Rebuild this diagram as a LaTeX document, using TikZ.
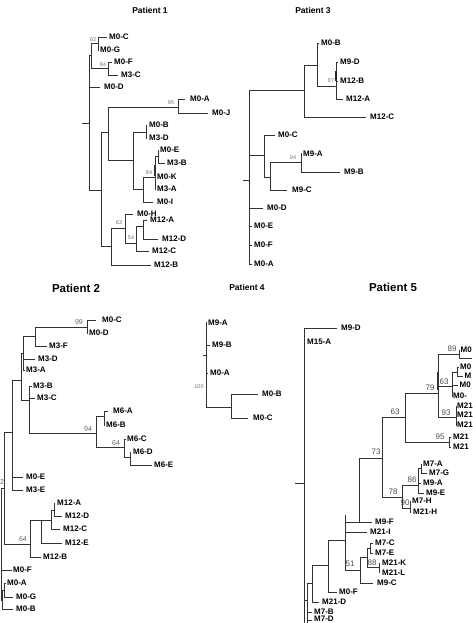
\documentclass[tikz,border=0pt]{standalone}
\usepackage{fontspec}
\setmainfont{Liberation Sans}
\newcount\lc
\newcommand\lb[3]{\global\advance\lc by 1 \node[lab] (lab\the\lc) at (#1,#2) {#3};}
\newcommand\bv[4][bs]{\global\advance\lc by 1 \node[#1] (bs\the\lc) at (#2,#3) {#4};}
\begin{document}
\begin{tikzpicture}[x=1pt,y=-1pt,
  br/.style={line width=0.55pt, draw=black!80},
  lab/.style={font=\fontsize{8}{9}\selectfont\bfseries, anchor=west, inner sep=0pt, text=black},
  bs/.style={font=\fontsize{5.5}{6}\selectfont, text=black!55, inner sep=0pt},
  bsb/.style={font=\fontsize{7}{8}\selectfont, text=black!60, inner sep=0pt},
  bsc/.style={font=\fontsize{8}{9}\selectfont, text=black!70, inner sep=0pt},
  ttl/.style={font=\fontsize{8.5}{10}\selectfont\bfseries, inner sep=0pt},
  ttlb/.style={font=\fontsize{11.5}{13}\selectfont\bfseries, inner sep=0pt}]
\useasboundingbox (0,0) rectangle (472,623);
\clip (0,0) rectangle (472,623);

% ================= Patient 1 =================
\node[ttl] (t1) at (150,10) {Patient 1};
\draw[br] (82,123)--(89,123);
\draw[br] (89,55)--(89,190);
\draw[br] (89,55)--(91,55) (91,43)--(91,68);
\draw[br] (91,43)--(98,43) (98,37)--(98,50) (98,37)--(107,37) (98,50)--(99,50);
\lb{109}{37}{M0-C} \lb{100}{50}{M0-G} \bv{93}{40}{62}
\draw[br] (91,68)--(108,68) (108,62)--(108,75) (108,62)--(112,62) (108,75)--(118,75);
\lb{114}{62}{M0-F} \lb{121}{75}{M3-C} \bv{103}{65}{84}
\draw[br] (89,87)--(100,87); \lb{104}{87}{M0-D}
\draw[br] (89,190)--(101,190) (101,132)--(101,246);
\draw[br] (101,132)--(108,132) (108,107)--(108,160);
\draw[br] (108,107)--(178,107) (178,99)--(178,113) (178,99)--(185,99) (178,113)--(208,113);
\lb{190}{99}{M0-A} \lb{212}{113}{M0-J} \bv{171}{103}{95}
\draw[br] (108,160)--(133,160) (133,132)--(133,189);
\draw[br] (133,132)--(146,132) (146,125)--(146,138) (146,125)--(147,125) (146,138)--(147,138);
\lb{149}{125}{M0-B} \lb{149}{138}{M3-D}
\draw[br] (133,189)--(143,189) (143,177)--(143,202);
\draw[br] (143,177)--(155,177) (155,156)--(155,189);
\draw[br] (155,156)--(158,156) (158,150)--(158,163) (158,150)--(159,150) (158,163)--(165,163);
\draw[line width=1.1pt, black!80] (155,165)--(155,176);
\lb{160}{150}{M0-E} \lb{167}{163}{M3-B} \bv{149}{173}{84}
\draw[br] (155,177)--(156,177) (155,189)--(156,189);
\lb{157}{177}{M0-K} \lb{157}{189}{M3-A}
\draw[br] (143,202)--(153,202); \lb{157}{202}{M0-I}
\draw[br] (101,246)--(111,246) (111,228)--(111,265);
\draw[br] (111,228)--(125,228) (125,214)--(125,243) (125,214)--(133,214);
\lb{137}{214}{M0-H} \bv{119}{223}{63}
\draw[br] (125,243)--(136,243) (136,226)--(136,251);
\bv{131}{238}{54}
\draw[br] (136,226)--(143,226) (143,220)--(143,239) (143,220)--(147,220) (143,239)--(158,239);
\lb{150}{220}{M12-A} \lb{162}{239}{M12-D}
\draw[br] (136,251)--(149,251); \lb{152}{251}{M12-C}
\draw[br] (111,265)--(151,265); \lb{154}{265}{M12-B}

% ================= Patient 3 =================
\node[ttl] (t3) at (313,10) {Patient 3};
\draw[br] (243,180)--(249,180);
\draw[br] (249,90)--(249,264);
\draw[br] (249,90)--(304,90) (304,65)--(304,117);
\draw[br] (304,65)--(317,65) (317,43)--(317,86) (317,43)--(319,43);
\lb{321}{43}{M0-B}
\draw[br] (317,86)--(336,86) (336,62)--(336,99) (336,62)--(338,62) (336,81)--(338,81) (336,99)--(343,99);
\draw[line width=1.4pt, black!85] (336,71)--(336,81);
\lb{340}{62}{M9-D} \lb{340}{81}{M12-B} \lb{346}{99}{M12-A} \bv{331}{81}{87}
\draw[br] (304,117)--(366,117); \lb{370}{117}{M12-C}
\draw[br] (249,155)--(264,155) (264,135)--(264,177) (264,135)--(275,135);
\lb{278}{135}{M0-C}
\draw[br] (264,177)--(270,177) (270,162)--(270,190);
\draw[br] (270,162)--(301,162) (301,153)--(301,172) (301,154)--(302,154) (301,172)--(340,172);
\lb{303}{154}{M9-A} \lb{344}{172}{M9-B} \bv{293}{158}{94}
\draw[br] (270,190)--(287,190); \lb{292}{190}{M9-C}
\draw[br] (249,208)--(263,208); \lb{267}{208}{M0-D}
\draw[br] (249,226)--(252,226) (249,245)--(252,245) (249,264)--(252,264);
\lb{254}{226}{M0-E} \lb{254}{245}{M0-F} \lb{254}{264}{M0-A}

% ================= Patient 4 =================
\node[ttl] (t4) at (247,287) {Patient 4};
\draw[br] (206,322)--(206,407) (203,355)--(206,355);
\draw[br] (206,323)--(207,323) (206,345)--(210,345) (206,373)--(208,373);
\lb{208}{323}{M9-A} \lb{212}{345}{M9-B} \lb{210}{373}{M0-A}
\bv{199}{387}{100}
\draw[line width=1pt, black!80] (206,407)--(231,407);
\draw[br] (231,394)--(231,418) (231,394)--(258,394) (231,418)--(248,418);
\lb{262}{394}{M0-B} \lb{253}{418}{M0-C}

% ================= Patient 2 =================
\node[ttlb] (t2) at (76,288) {Patient 2};
\draw[br] (35,327)--(87,327) (87,320)--(87,333) (87,320)--(96,320) (87,333)--(88,333);
\lb{102}{320}{M0-C} \lb{89}{333}{M0-D} \bv[bsb]{79}{322}{99}
\draw[br] (35,327)--(35,346) (35,346)--(47,346); \lb{49}{346}{M3-F}
\draw[br] (23,336)--(35,336) (23,336)--(23,370) (23,359)--(35,359) (23,370)--(25,370);
\lb{38}{359}{M3-D} \lb{26}{370}{M3-A}
\draw[br] (21,353)--(23,353) (21,353)--(21,400);
\draw[br] (21,400)--(29,400) (29,386)--(29,433) (29,386)--(32,386) (29,398)--(35,398);
\lb{33}{386}{M3-B} \lb{37}{398}{M3-C}
\draw[br] (29,433)--(96,433); \bv[bsb]{88}{429}{94}
\draw[br] (96,416)--(96,447) (96,416)--(104,416) (104,411)--(104,425) (104,411)--(108,411) (104,425)--(105,425);
\lb{113}{411}{M6-A} \lb{106}{425}{M6-B}
\draw[br] (96,447)--(124,447) (124,439)--(124,457) (124,439)--(126,439) (124,457)--(130,457);
\draw[br] (130,452)--(130,465) (130,452)--(131,452) (130,465)--(152,465);
\bv[bsb]{116}{443}{64}
\lb{127}{439}{M6-C} \lb{133}{452}{M6-D} \lb{154}{465}{M6-E}
\draw[br] (12,380)--(21,380) (12,380)--(12,490) (12,477)--(23,477) (12,490)--(23,490);
\lb{26}{477}{M0-E} \lb{26}{490}{M3-E}
\draw[br] (4,432)--(12,432) (4,432)--(4,544);
\draw[br] (4,544)--(30,544) (30,520)--(30,557) (30,557)--(41,557);
\bv[bsb]{23}{539}{64} \lb{43}{557}{M12-B}
\draw[br] (30,520)--(41,520) (41,520)--(41,543) (41,543)--(62,543);
\lb{65}{543}{M12-E}
\draw[br] (41,520)--(51,520) (51,510)--(51,529) (51,529)--(60,529);
\lb{63}{529}{M12-C}
\draw[br] (51,510)--(54,510) (54,503)--(54,516) (54,503)--(55,503) (54,516)--(62,516);
\lb{57}{503}{M12-A} \lb{65}{516}{M12-D}
\draw[br] (1,488)--(4,488) (1,488)--(1,600);
\bv[bsb]{2}{482}{2}
\draw[br] (1,570)--(12,570); \lb{13}{570}{M0-F}
\draw[br] (1,600)--(2,600) (2,590)--(2,609) (2,609)--(13,609) (2,590)--(4,590);
\draw[br] (4,583)--(4,597) (4,583)--(6,583) (4,597)--(13,597);
\lb{7}{583}{M0-A} \lb{16}{597}{M0-G} \lb{16}{609}{M0-B}

% ================= Patient 5 =================
\node[ttlb] (t5) at (393,287) {Patient 5};
\draw[br] (304,328)--(304,623) (295,483)--(304,483);
\draw[br] (304,328)--(337,328); \lb{341}{328}{M9-D}
\lb{307}{342}{M15-A}
\draw[br] (304,600)--(307,600) (307,583)--(307,623) (307,583)--(312,583) (307,612)--(312,612) (307,620)--(312,620);
\lb{314}{612}{M7-B} \lb{314}{619}{M7-D}
\draw[br] (312,565)--(312,602) (312,602)--(319,602) (312,565)--(328,565);
\lb{322}{602}{M21-D}
\draw[br] (328,540)--(328,592) (328,592)--(337,592) (328,540)--(345,540);
\lb{339}{592}{M0-F}
\draw[br] (345,515)--(345,570) (345,522)--(372,522) (345,532)--(367,532) (345,570)--(360,570);
\lb{375}{522}{M9-F} \lb{370}{532}{M21-I} \bv[bsc]{350}{564}{51}
\draw[br] (359,458)--(359,522);
\draw[br] (360,557)--(360,583) (360,583)--(373,583) (360,557)--(367,557);
\lb{377}{583}{M9-C}
\draw[br] (367,548)--(367,567) (367,548)--(370,548) (367,567)--(379,567);
\draw[br] (370,543)--(370,553) (370,543)--(373,543) (370,553)--(373,553);
\lb{375}{543}{M7-C} \lb{375}{553}{M7-E}
\draw[line width=1pt, black!80] (379,563)--(379,573);
\lb{382}{563}{M21-K} \lb{382}{573}{M21-L} \bv[bsc]{372}{563}{88}
\draw[br] (359,458)--(382,458) (382,417)--(382,497);
\bv[bsc]{376}{452}{73}
\draw[br] (382,497)--(402,497) (402,485)--(402,508);
\bv[bsc]{393}{492}{78}
\draw[br] (402,485)--(418,485) (418,468)--(418,493);
\bv[bsc]{412}{480}{86}
\draw[br] (418,468)--(421,468) (421,464)--(421,473) (421,464)--(422,464) (421,473)--(427,473);
\draw[br] (418,483)--(421,483) (418,493)--(424,493);
\lb{423}{464}{M7-A} \lb{429}{473}{M7-G} \lb{423}{483}{M9-A} \lb{426}{493}{M9-E}
\draw[br] (402,508)--(410,508) (410,501)--(410,512) (410,501)--(411,501) (410,512)--(411,512);
\bv[bsc]{405}{503}{90}
\lb{412}{501}{M7-H} \lb{413}{512}{M21-H}
\draw[br] (382,417)--(405,417) (405,393)--(405,442);
\bv[bsc]{395}{412}{63}
\draw[br] (405,442)--(449,442) (449,437)--(449,447) (449,437)--(451,437) (449,447)--(451,447);
\bv[bsc]{440}{437}{95}
\lb{453}{437}{M21} \lb{453}{447}{M21}
\draw[br] (405,393)--(438,393) (438,354)--(438,417);
\draw[line width=1.2pt, black!80] (438,372)--(438,390);
\bv[bsc]{430}{388}{79}
\draw[br] (438,354)--(459,354) (459,350)--(459,358) (459,350)--(460,350) (459,358)--(472,358);
\bv[bsc]{452}{349}{89} \lb{460.5}{350}{M0}
\draw[br] (438,386)--(452,386) (452,372)--(452,396) (452,372)--(457,372);
\draw[br] (457,367)--(457,376) (457,367)--(459,367) (457,376)--(463,376) (452,385)--(458,385) (452,396)--(452.5,396);
\bv[bsc]{444}{382}{63}
\lb{460}{367}{M0} \lb{464.5}{376}{M} \lb{459.5}{385}{M0} \lb{453}{396}{M0-}
\draw[br] (438,417)--(456,417) (456,406)--(456,425) (456,406)--(456.5,406) (456,415)--(456.5,415) (456,425)--(456.5,425);
\bv[bsc]{446}{413}{93}
\lb{457}{406}{M21} \lb{457}{415}{M21} \lb{457}{425}{M21}
\end{tikzpicture}
\end{document}
